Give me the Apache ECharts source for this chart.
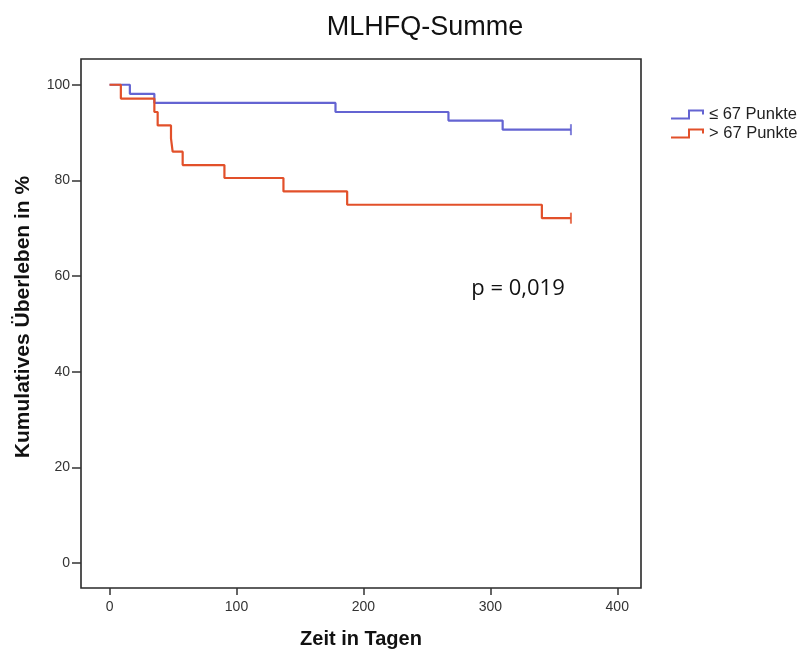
<!DOCTYPE html>
<html>
<head>
<meta charset="utf-8">
<script src="https://cdn.jsdelivr.net/npm/echarts@6/dist/echarts.min.js"></script>
<style>html,body{margin:0;padding:0;background:#fff;}#c{width:810px;height:651px;}</style>
</head>
<body>
<div id="c"></div>
<script>
// Kaplan-Meier step data [day, cumulative survival %]
const seriesNames = ['\u2264 67 Punkte', '> 67 Punkte'];
const lowDays   = [0, 16, 35.3, 178, 267, 309.7, 363.5];
const lowValues = [100, 98.1, 96.2, 94.3, 92.5, 90.6, 90.6];
const highDays   = [0, 8.9, 35.3, 37.9, 48.4, 49.7, 57.6, 90.5, 137, 187.2, 340.6, 363.5];
const highValues = [100, 97.1, 94.3, 91.5, 88.8, 86.0, 83.2, 80.5, 77.7, 74.9, 72.1, 72.1];
const censorLow  = [[363.5, 90.6]];
const censorHigh = [[363.5, 72.1]];
const xTicks = [0, 100, 200, 300, 400];
const yTicks = [0, 20, 40, 60, 80, 100];
const titleText = 'MLHFQ-Summe';
const xName = 'Zeit in Tagen';
const yName = 'Kumulatives \u00dcberleben in %';
const pText = 'p = 0,019';

const blue = '#6464d2';
const red = '#e2502a';
const zip = (a, b) => a.map((v, i) => [v, b[i]]);
const legendIcon = 'path://M0,8 L17,8 L17,0 L33,0 L33,5 L31,5 L31,2 L19,2 L19,10 L0,10 Z';

const chart = echarts.init(document.getElementById('c'));
chart.setOption({
  animation: false,
  backgroundColor: '#fff',
  grid: { left: 81, right: 169, top: 59, bottom: 63, show: true, borderColor: '#2a2a2a', borderWidth: 1.6, backgroundColor: 'transparent' },
  xAxis: {
    type: 'value', min: -22.5, max: 418.7,
    axisLine: { show: false, onZero: false },
    splitLine: { show: false },
    axisTick: { show: true, length: 7, customValues: xTicks, lineStyle: { color: '#333', width: 1.5 } },
    axisLabel: { customValues: xTicks, margin: 12, color: '#333', fontSize: 14, fontFamily: 'Liberation Sans, Arial, sans-serif' }
  },
  yAxis: {
    type: 'value', min: -5.23, max: 105.38,
    axisLine: { show: false, onZero: false },
    splitLine: { show: false },
    axisTick: { show: true, length: 9, customValues: yTicks, lineStyle: { color: '#333', width: 1.5 } },
    axisLabel: { customValues: yTicks, margin: 11, color: '#333', fontSize: 14, fontFamily: 'Liberation Sans, Arial, sans-serif' }
  },
  legend: {
    left: 666, top: 101, orient: 'vertical',
    itemWidth: 33, itemHeight: 10, itemGap: 2,
    textStyle: { fontSize: 16.5, lineHeight: 16, color: '#222', fontFamily: 'Liberation Sans, Arial, sans-serif', padding: [0, 0, 0, 0] },
    itemStyle: { borderWidth: 0 },
    data: [
      { name: seriesNames[0], icon: legendIcon },
      { name: seriesNames[1], icon: legendIcon }
    ]
  },
  series: [
    { name: seriesNames[0], type: 'line', step: 'end', data: zip(lowDays, lowValues), showSymbol: false, symbol: 'none', color: blue, lineStyle: { color: blue, width: 2.2 } },
    { name: seriesNames[1], type: 'line', step: 'end', data: zip(highDays, highValues), showSymbol: false, symbol: 'none', color: red, lineStyle: { color: red, width: 2.2 } },
    { name: seriesNames[0], type: 'scatter', data: censorLow, symbol: 'rect', symbolSize: [2, 11], itemStyle: { color: blue }, silent: true },
    { name: seriesNames[1], type: 'scatter', data: censorHigh, symbol: 'rect', symbolSize: [2, 11], itemStyle: { color: red }, silent: true }
  ],
  graphic: [
    { type: 'text', x: 425, y: 28, style: { text: titleText, fill: '#111', font: '27px "Liberation Sans", Arial, sans-serif', textAlign: 'center', textVerticalAlign: 'middle' } },
    { type: 'text', x: 361, y: 639, style: { text: xName, fill: '#111', font: 'bold 20px "Liberation Sans", Arial, sans-serif', textAlign: 'center', textVerticalAlign: 'middle' } },
    { type: 'text', x: 23, y: 317, rotation: Math.PI / 2, style: { text: yName, fill: '#111', font: 'bold 21px "Liberation Sans", Arial, sans-serif', textAlign: 'center', textVerticalAlign: 'middle' } },
    { type: 'text', x: 518, y: 289, style: { text: pText, fill: '#111', font: '22px "Open Sans", sans-serif', textAlign: 'center', textVerticalAlign: 'middle' } }
  ]
});
</script>
</body>
</html>
